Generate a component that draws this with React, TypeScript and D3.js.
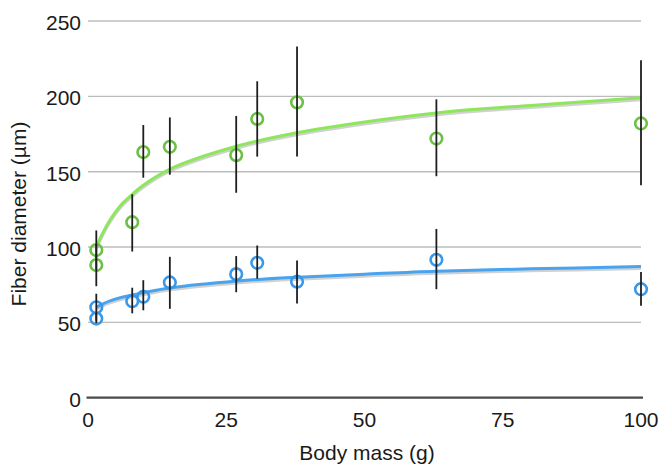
import React from 'react';
import * as d3 from 'd3';

// body mass (g) of each sample
const massGreen = [1.5, 1.5, 8, 10, 14.8, 26.8, 30.6, 37.8, 63, 100];
const diamGreen = [98, 88, 116.5, 163, 166.5, 161, 185, 196, 172, 182];
const lowGreen = [85, 74, 97, 146, 148, 136, 160, 160, 147, 141];
const highGreen = [111, 102, 135, 181, 186, 187, 210, 233, 198, 224];

const massBlue = [1.5, 1.5, 8, 10, 14.8, 26.8, 30.6, 37.8, 63, 100];
const diamBlue = [60, 52.5, 64, 67, 76.5, 82, 89.5, 77, 91.5, 72];
const lowBlue = [51, 49.5, 56, 58, 59, 70, 79, 62.5, 72, 61];
const highBlue = [69, 56, 73, 78, 93.5, 94, 101, 91, 112, 83.5];

// fitted trend curves
const fitMass = [1.5, 2.5, 4, 6, 8, 10, 15, 27, 38, 50, 63, 80, 100];
const fitGreen = [100, 108, 118, 128, 135, 141, 152, 167, 176, 183, 189, 194, 199];
const fitBlue = [60, 62, 64.3, 66.5, 68.2, 69.7, 73, 77.5, 80, 82, 84, 85.5, 87];

const xTicks = [0, 25, 50, 75, 100];
const yTicks = [0, 50, 100, 150, 200, 250];

const font = '"Liberation Sans", Arial, sans-serif';

const App = () => {
  const width = 659;
  const height = 465;

  const x = d3.scaleLinear().domain([0, 100]).range([88, 641]);
  const y = d3.scaleLinear().domain([0, 250]).range([397.7, 21]);

  const line = d3.line<number>()
    .x((d, i) => x(fitMass[i]))
    .y(d => y(d))
    .curve(d3.curveCatmullRom.alpha(0.5));

  const series = [
    { mass: massGreen, diam: diamGreen, low: lowGreen, high: highGreen, fit: fitGreen, dot: '#6cc046', curve: '#8ee65c' },
    { mass: massBlue, diam: diamBlue, low: lowBlue, high: highBlue, fit: fitBlue, dot: '#3a98e8', curve: '#4aa3ef' },
  ];

  return (
    <svg width={width} height={height} style={{ position: 'absolute', left: 0, top: 0, background: '#fff' }} fontFamily={font}>
      {/* grid */}
      {yTicks.filter(t => t > 0).map(t => (
        <line key={t} x1={x(0)} x2={x(100)} y1={y(t)} y2={y(t)} stroke="#bcbcbc" strokeWidth={1.4} />
      ))}
      <line x1={x(0) - 1.5} x2={x(100) + 2} y1={y(0)} y2={y(0)} stroke="#4a4a4a" strokeWidth={2.2} />

      {/* tick labels */}
      {yTicks.map(t => (
        <text key={t} x={81} y={y(t)} dy="0.42em" textAnchor="end" fontSize={21} fill="#1a1a1a">{t}</text>
      ))}
      {xTicks.map(t => (
        <text key={t} x={x(t)} y={427} textAnchor="middle" fontSize={21} fill="#1a1a1a">{t}</text>
      ))}

      {/* axis titles */}
      <text x={367} y={460} textAnchor="middle" fontSize={21} fill="#1a1a1a">Body mass (g)</text>
      <text transform="translate(26,214) rotate(-90)" textAnchor="middle" fontSize={21} fill="#1a1a1a">Fiber diameter (µm)</text>

      {series.map((s, si) => (
        <g key={si}>
          <path d={line(s.fit) || ''} fill="none" stroke="#9a9a9a" strokeOpacity={0.45} strokeWidth={3} transform="translate(0,2)" />
          <path d={line(s.fit) || ''} fill="none" stroke={s.curve} strokeWidth={3} />
          {s.diam.map((d, i) => (
            <circle key={i} cx={x(s.mass[i])} cy={y(d)} r={5.8} fill="none" stroke={s.dot} strokeWidth={2.6} />
          ))}
          {s.diam.map((d, i) => (
            <line key={i} x1={x(s.mass[i])} x2={x(s.mass[i])} y1={y(s.low[i])} y2={y(s.high[i])} stroke="#1e1e1e" strokeWidth={1.8} />
          ))}
        </g>
      ))}
    </svg>
  );
};

export default App;
